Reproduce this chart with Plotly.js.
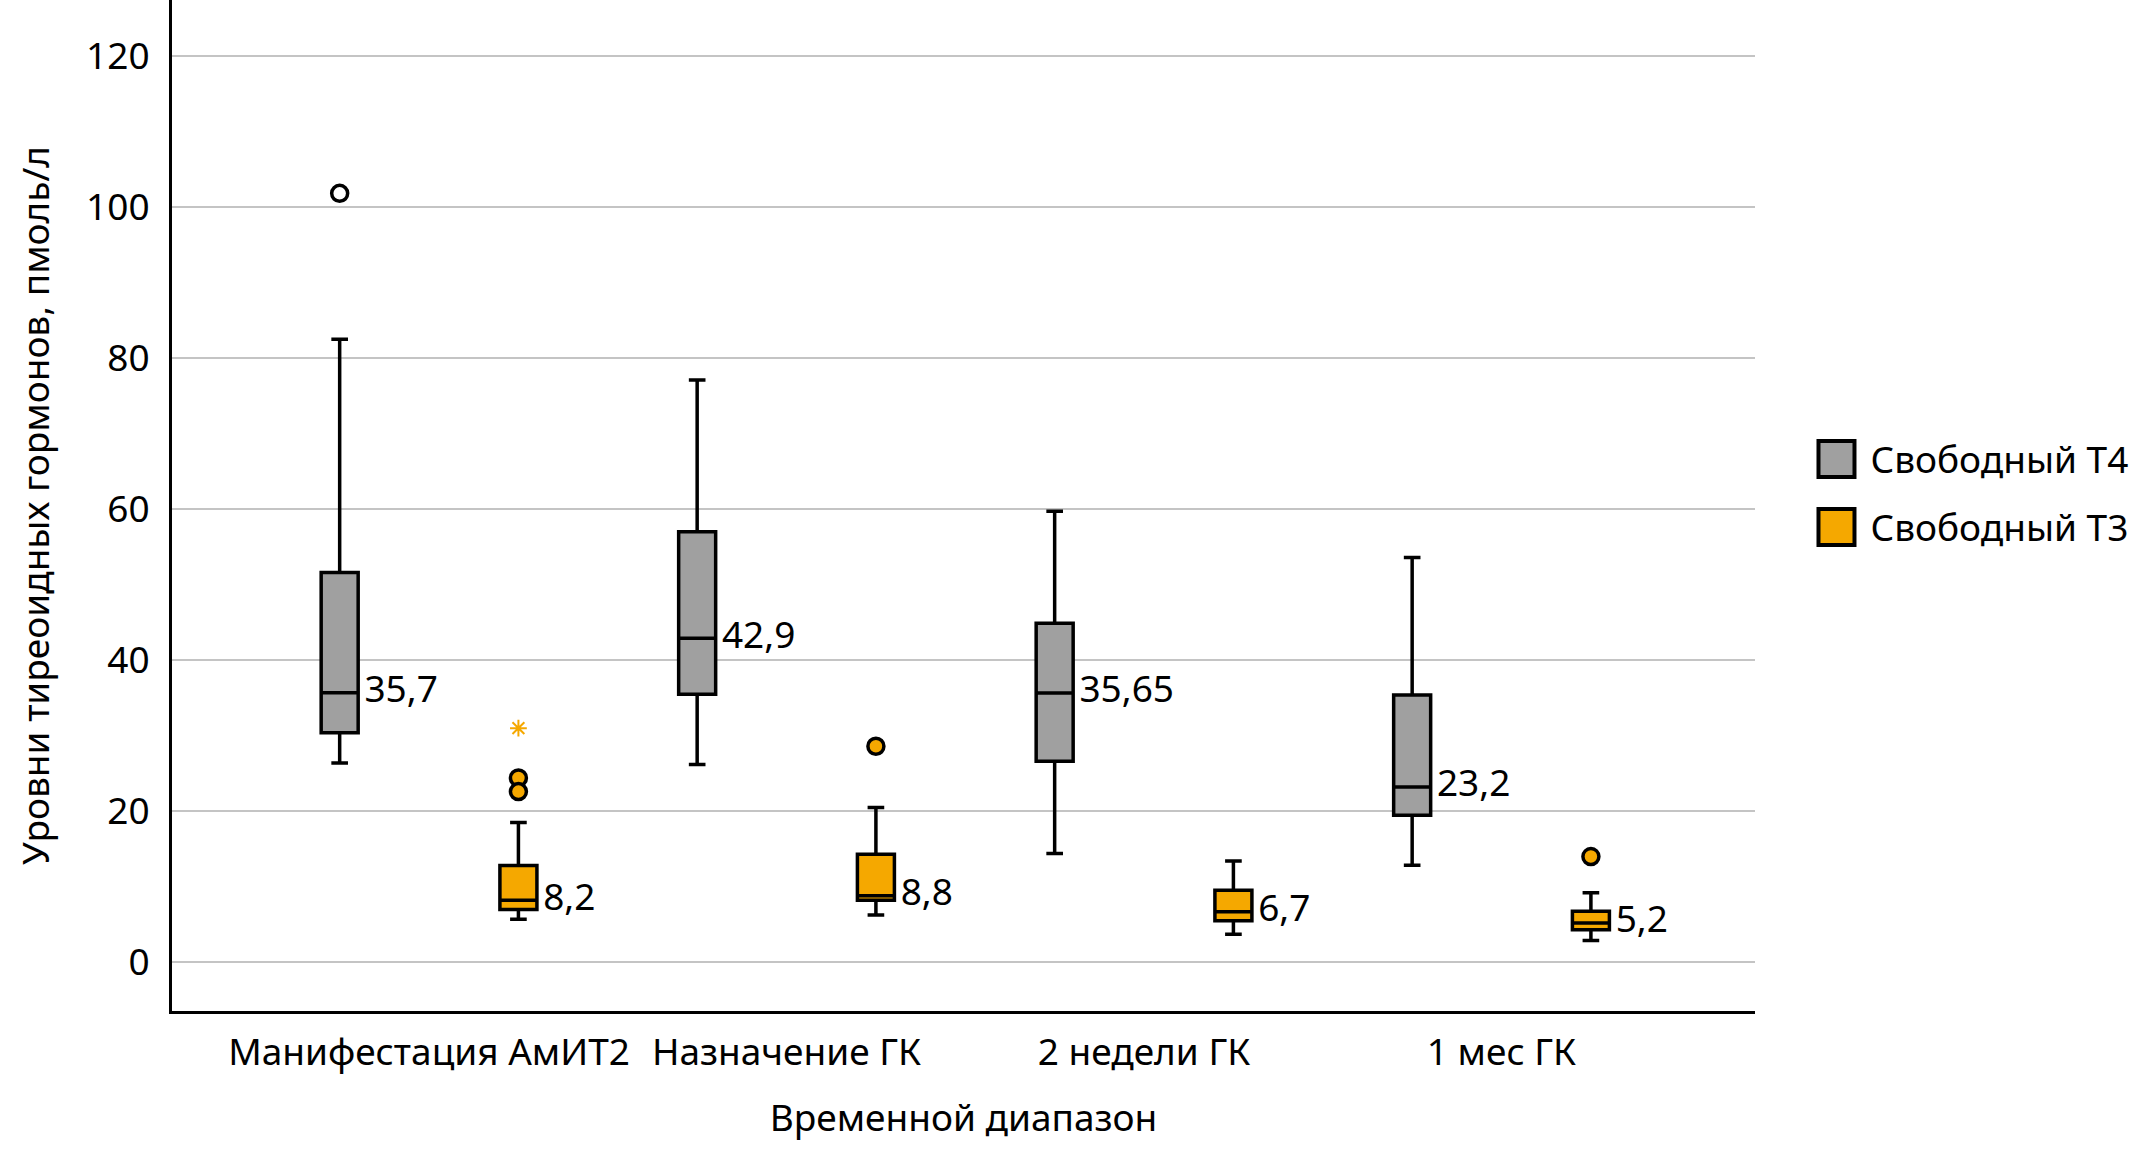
<!DOCTYPE html>
<html>
<head>
<meta charset="utf-8">
<script src="https://cdn.plot.ly/plotly-3.0.1.min.js"></script>
<style>
  html, body { margin: 0; padding: 0; background: #fff; }
  #chart { width: 2143px; height: 1150px; }
</style>
</head>
<body>
<div id="chart"></div>
<script>
// ---- Data ----
const categories = ["Манифестация АмИТ2", "Назначение ГК", "2 недели ГК", "1 мес ГК"];
const seriesNames = ["Свободный Т4", "Свободный Т3"];

const t4Lower  = [26.4, 26.2, 14.4, 12.85];
const t4Q1     = [30.4, 35.5, 26.6, 19.45];
const t4Median = [35.7, 42.9, 35.65, 23.2];
const t4Q3     = [51.6, 57.0, 44.9, 35.4];
const t4Upper  = [82.5, 77.1, 59.7, 53.6];

const t3Lower  = [5.7, 6.25, 3.7, 2.9];
const t3Q1     = [7.0, 8.2, 5.5, 4.3];
const t3Median = [8.2, 8.8, 6.7, 5.2];
const t3Q3     = [12.8, 14.3, 9.55, 6.75];
const t3Upper  = [18.5, 20.5, 13.4, 9.2];

// outliers (circles) and extreme values (asterisk)
const t4OutlierX = ["Манифестация АмИТ2"];
const t4OutlierY = [101.8];
const t3OutlierX = ["Манифестация АмИТ2", "Манифестация АмИТ2", "Назначение ГК", "1 мес ГК"];
const t3OutlierY = [24.4, 22.6, 28.6, 14.0];
const t3ExtremeX = ["Манифестация АмИТ2"];
const t3ExtremeY = [31.0];

const yTicks = [0, 20, 40, 60, 80, 100, 120];

// ---- Styles ----
const FONT = "Noto Sans, Open Sans, DejaVu Sans, sans-serif";
const FS = 37;
const GRAY = "#a0a0a0";
const ORANGE = "#f5a800";
const fmt = v => String(v).replace(".", ",");

function boxTrace(name, group, color, lo, q1, med, q3, up) {
  return {
    type: "box", name: name, x: categories,
    lowerfence: lo, q1: q1, median: med, q3: q3, upperfence: up,
    offsetgroup: group, legendgroup: group,
    fillcolor: color, line: { color: "#000", width: 3.5 },
    whiskerwidth: 0.45, boxpoints: false, hoverinfo: "skip"
  };
}
function labelTrace(group, med) {
  return {
    type: "scatter", mode: "markers+text", x: categories, y: med,
    text: med.map(fmt), textposition: "middle right",
    textfont: { family: FONT, size: FS, color: "#000" },
    marker: { size: 38, color: "rgba(0,0,0,0)" },
    offsetgroup: group, showlegend: false, hoverinfo: "skip", cliponaxis: false
  };
}

const data = [
  boxTrace(seriesNames[0], "t4", GRAY, t4Lower, t4Q1, t4Median, t4Q3, t4Upper),
  boxTrace(seriesNames[1], "t3", ORANGE, t3Lower, t3Q1, t3Median, t3Q3, t3Upper),
  labelTrace("t4", t4Median),
  labelTrace("t3", t3Median),
  {
    type: "scatter", mode: "markers", x: t4OutlierX, y: t4OutlierY, offsetgroup: "t4",
    marker: { symbol: "circle", size: 16, color: "#fff", line: { color: "#000", width: 3.5 } },
    showlegend: false, hoverinfo: "skip", cliponaxis: false
  },
  {
    type: "scatter", mode: "markers", x: t3OutlierX, y: t3OutlierY, offsetgroup: "t3",
    marker: { symbol: "circle", size: 16, color: ORANGE, line: { color: "#000", width: 3.5 } },
    showlegend: false, hoverinfo: "skip", cliponaxis: false
  },
  {
    type: "scatter", mode: "markers", x: t3ExtremeX, y: t3ExtremeY, offsetgroup: "t3",
    marker: { symbol: "asterisk-open", size: 14, color: ORANGE, line: { color: ORANGE, width: 2 } },
    showlegend: false, hoverinfo: "skip", cliponaxis: false
  }
];

const layout = {
  width: 2143, height: 1150,
  margin: { l: 172, r: 388, t: 0, b: 139 },
  paper_bgcolor: "#fff", plot_bgcolor: "#fff",
  font: { family: FONT, size: FS, color: "#000" },
  boxmode: "group", boxgap: 0, boxgroupgap: 0.793,
  scattermode: "group", scattergap: 0,
  showlegend: true,
  legend: {
    x: 1.030, xanchor: "left", y: 0.512, yanchor: "middle",
    font: { family: FONT, size: FS, color: "#000" },
    traceorder: "grouped", tracegroupgap: 17, itemwidth: 58,
    bgcolor: "rgba(0,0,0,0)"
  },
  xaxis: {
    type: "category", categoryorder: "array", categoryarray: categories,
    range: [-0.719, 3.709], showgrid: false, zeroline: false,
    showline: true, linecolor: "#000", linewidth: 3,
    ticks: "", ticklabelstandoff: 7,
    tickfont: { family: FONT, size: FS, color: "#000" },
    title: { text: "Временной диапазон", font: { family: FONT, size: FS, color: "#000" }, standoff: 30 },
    fixedrange: true
  },
  yaxis: {
    range: [-6.45, 127.4], tickmode: "array", tickvals: yTicks, ticktext: yTicks.map(String),
    showgrid: true, gridcolor: "#c4c4c4", gridwidth: 2, zeroline: false,
    showline: true, linecolor: "#000", linewidth: 3,
    ticks: "", ticklabelstandoff: 12,
    tickfont: { family: FONT, size: FS, color: "#000" },
    title: { text: "Уровни тиреоидных гормонов, пмоль/л", font: { family: FONT, size: FS, color: "#000" }, standoff: 26 },
    fixedrange: true
  }
};

Plotly.newPlot("chart", data, layout, { displayModeBar: false, responsive: false }).then(function (gd) {
  // enlarge legend swatches to match the reference
  document.querySelectorAll("#chart .legend .traces path.legendbox").forEach(function (p) {
    p.setAttribute("d", "M18,18H-18V-18H18Z");
    p.style.strokeWidth = "4px";
  });
});
</script>
</body>
</html>
